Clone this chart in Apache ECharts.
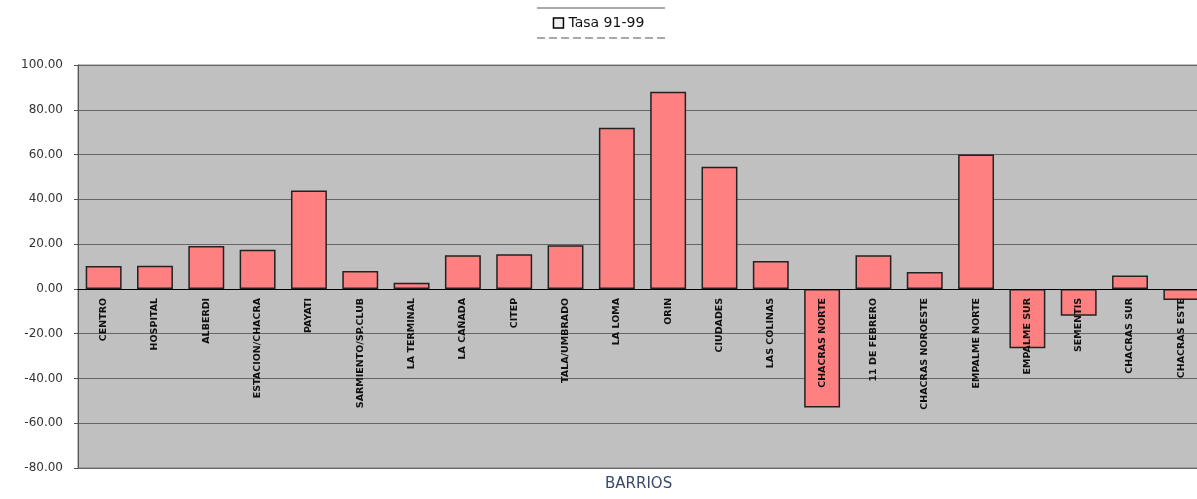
<!DOCTYPE html>
<html>
<head>
<meta charset="utf-8">
<script src="https://cdn.jsdelivr.net/npm/echarts@6/dist/echarts.min.js"></script>
<style>
html,body{margin:0;padding:0;background:#fff;}
#c{width:1197px;height:499px;}
</style>
</head>
<body>
<div id="c"></div>
<script>
const categories = ["CENTRO","HOSPITAL","ALBERDI","ESTACION/CHACRA","PAYATI","SARMIENTO/SP.CLUB","LA TERMINAL","LA CAÑADA","CITEP","TALA/UMBRADO","LA LOMA","ORIN","CIUDADES","LAS COLINAS","CHACRAS NORTE","11 DE FEBRERO","CHACRAS NOROESTE","EMPALME NORTE","EMPALME SUR","SEMENTIS","CHACRAS SUR","CHACRAS ESTE"];
const tasa9199 = [10.2, 10.3, 19.2, 17.5, 44.0, 8.0, 2.7, 15.0, 15.5, 19.5, 72.0, 88.0, 54.5, 12.5, -53.0, 15.0, 7.5, 60.0, -26.5, -12.0, 6.0, -5.0];
const seriesName = "Tasa 91-99";
const yMin = -80, yMax = 100, yStep = 20;

const H = 499, gridTop = 65, gridBottom = 31;
const plotH = H - gridTop - gridBottom;
// place the category axis on the zero line
const zeroOffset = -((0 - yMin) / (yMax - yMin)) * plotH;

const chart = echarts.init(document.getElementById('c'));
chart.setOption({
  backgroundColor: '#ffffff',
  animation: false,
  title: {
    text: 'BARRIOS',
    left: 600, bottom: 2,
    textStyle: {fontFamily: 'DejaVu Sans', fontSize: 15, fontWeight: 'normal', color: '#3a4a6a'}
  },
  legend: {
    top: 11, left: 'center',
    data: [seriesName],
    itemWidth: 10, itemHeight: 10, itemGap: 5,
    icon: 'rect',
    itemStyle: {color: '#f0f0f0', borderColor: '#000', borderWidth: 1.5},
    textStyle: {fontFamily: 'DejaVu Sans', fontSize: 14, color: '#111'}
  },
  graphic: [
    {type: 'line', shape: {x1: 537, y1: 8, x2: 665, y2: 8}, style: {stroke: '#555', lineWidth: 1}},
    {type: 'line', shape: {x1: 537, y1: 38, x2: 665, y2: 38}, style: {stroke: '#555', lineWidth: 1, lineDash: [8, 4]}}
  ],
  grid: {
    left: 78, right: -10, top: gridTop, bottom: gridBottom,
    outerBoundsMode: 'none',
    containLabel: false,
    show: true, backgroundColor: '#c0c0c0', borderColor: '#808080', borderWidth: 1
  },
  xAxis: {
    type: 'category',
    data: categories,
    offset: zeroOffset,
    z: 10,
    axisLine: {show: true, onZero: false, lineStyle: {color: '#000', width: 1}},
    axisTick: {show: false},
    axisLabel: {
      interval: 0, rotate: 90, margin: 9,
      fontFamily: 'DejaVu Sans', fontSize: 9.5, fontWeight: 'bold', color: '#111'
    }
  },
  yAxis: {
    type: 'value', min: yMin, max: yMax, interval: yStep,
    axisLine: {show: true, onZero: false, lineStyle: {color: '#555'}},
    axisTick: {show: true, length: 4, lineStyle: {color: '#555'}},
    axisLabel: {
      margin: 15,
      fontFamily: 'DejaVu Sans', fontSize: 12, color: '#333',
      formatter: v => v.toFixed(2)
    },
    splitLine: {show: true, lineStyle: {color: '#666', width: 1}}
  },
  series: [{
    name: seriesName,
    type: 'bar',
    data: tasa9199,
    barCategoryGap: '30%',
    itemStyle: {color: '#ff8080', borderColor: '#222', borderWidth: 1.5}
  }]
});
</script>
</body>
</html>
